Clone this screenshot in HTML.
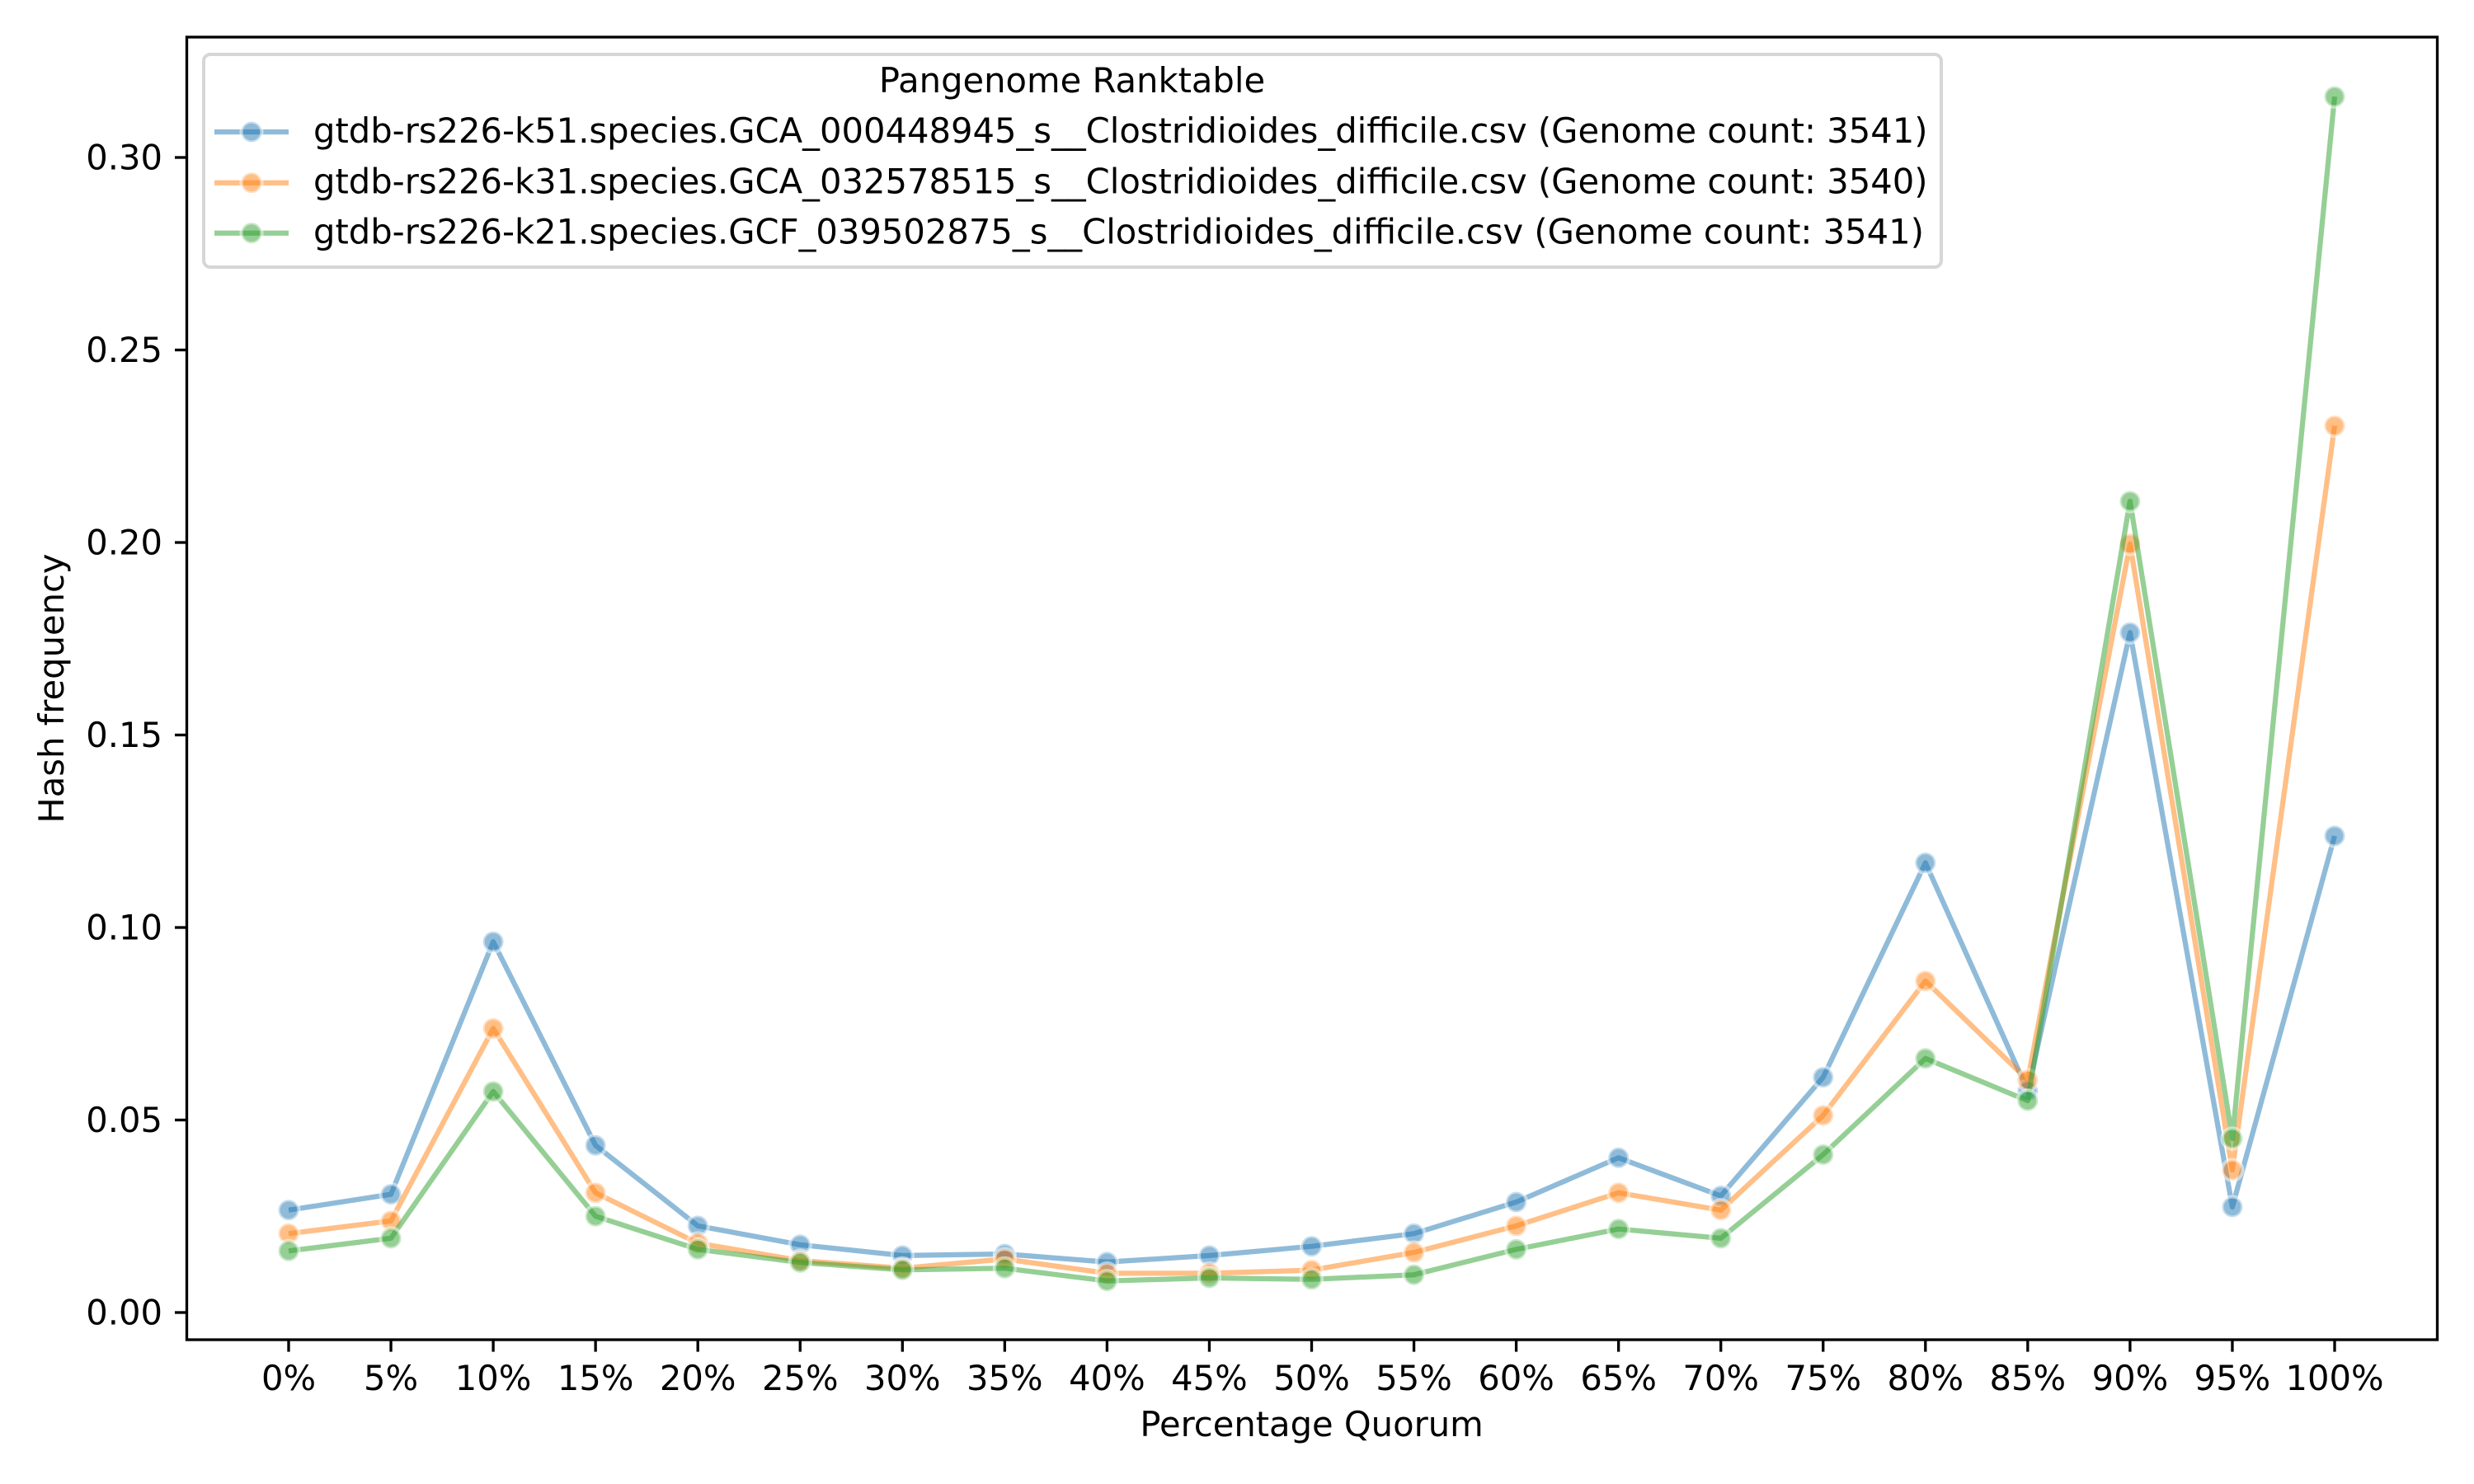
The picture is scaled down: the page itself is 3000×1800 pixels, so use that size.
<!DOCTYPE html>
<html>
<head>
<meta charset="utf-8">
<style>
  html, body { margin: 0; padding: 0; background: #ffffff; }
  svg { display: block; }
  text { font-family: "DejaVu Sans", "Liberation Sans", sans-serif; font-size: 41.67px; fill: #000; }
</style>
</head>
<body>
<svg width="3000" height="1800" viewBox="0 0 3000 1800" xmlns="http://www.w3.org/2000/svg">
  <rect x="0" y="0" width="3000" height="1800" fill="#ffffff"/>

  <!-- Series: blue (k51) -->
  <g>
    <polyline fill="none" stroke="#1f77b4" stroke-opacity="0.5" stroke-width="6.25" stroke-linejoin="round" stroke-linecap="butt"
      points="350,1467.8 474.05,1448.6 598.1,1142.3 722.15,1389.3 846.2,1486.9 970.25,1509.8 1094.3,1522.9 1218.35,1521.0 1342.4,1530.8 1466.45,1522.9 1590.5,1511.7 1714.55,1496.3 1838.6,1458.0 1962.65,1404.3 2086.7,1450.5 2210.75,1306.7 2334.8,1046.5 2458.85,1323.0 2582.9,767.3 2706.95,1464.0 2831,1013.9"/>
    <g fill="#1f77b4" fill-opacity="0.5" stroke="#ffffff" stroke-opacity="0.5" stroke-width="4.17">
      <circle cx="350" cy="1467.8" r="12.5"/><circle cx="474.05" cy="1448.6" r="12.5"/><circle cx="598.1" cy="1142.3" r="12.5"/>
      <circle cx="722.15" cy="1389.3" r="12.5"/><circle cx="846.2" cy="1486.9" r="12.5"/><circle cx="970.25" cy="1509.8" r="12.5"/>
      <circle cx="1094.3" cy="1522.9" r="12.5"/><circle cx="1218.35" cy="1521.0" r="12.5"/><circle cx="1342.4" cy="1530.8" r="12.5"/>
      <circle cx="1466.45" cy="1522.9" r="12.5"/><circle cx="1590.5" cy="1511.7" r="12.5"/><circle cx="1714.55" cy="1496.3" r="12.5"/>
      <circle cx="1838.6" cy="1458.0" r="12.5"/><circle cx="1962.65" cy="1404.3" r="12.5"/><circle cx="2086.7" cy="1450.5" r="12.5"/>
      <circle cx="2210.75" cy="1306.7" r="12.5"/><circle cx="2334.8" cy="1046.5" r="12.5"/><circle cx="2458.85" cy="1323.0" r="12.5"/>
      <circle cx="2582.9" cy="767.3" r="12.5"/><circle cx="2706.95" cy="1464.0" r="12.5"/><circle cx="2831" cy="1013.9" r="12.5"/>
    </g>
  </g>

  <!-- Series: orange (k31) -->
  <g>
    <polyline fill="none" stroke="#ff7f0e" stroke-opacity="0.5" stroke-width="6.25" stroke-linejoin="round" stroke-linecap="butt"
      points="350,1496.3 474.05,1480.9 598.1,1247.4 722.15,1446.8 846.2,1507.9 970.25,1529.0 1094.3,1538.3 1218.35,1527.1 1342.4,1544.4 1466.45,1544.4 1590.5,1540.6 1714.55,1519.1 1838.6,1486.9 1962.65,1446.8 2086.7,1467.8 2210.75,1352.9 2334.8,1189.9 2458.85,1309.9 2582.9,659.9 2706.95,1419.2 2831,516.5"/>
    <g fill="#ff7f0e" fill-opacity="0.5" stroke="#ffffff" stroke-opacity="0.5" stroke-width="4.17">
      <circle cx="350" cy="1496.3" r="12.5"/><circle cx="474.05" cy="1480.9" r="12.5"/><circle cx="598.1" cy="1247.4" r="12.5"/>
      <circle cx="722.15" cy="1446.8" r="12.5"/><circle cx="846.2" cy="1507.9" r="12.5"/><circle cx="970.25" cy="1529.0" r="12.5"/>
      <circle cx="1094.3" cy="1538.3" r="12.5"/><circle cx="1218.35" cy="1527.1" r="12.5"/><circle cx="1342.4" cy="1544.4" r="12.5"/>
      <circle cx="1466.45" cy="1544.4" r="12.5"/><circle cx="1590.5" cy="1540.6" r="12.5"/><circle cx="1714.55" cy="1519.1" r="12.5"/>
      <circle cx="1838.6" cy="1486.9" r="12.5"/><circle cx="1962.65" cy="1446.8" r="12.5"/><circle cx="2086.7" cy="1467.8" r="12.5"/>
      <circle cx="2210.75" cy="1352.9" r="12.5"/><circle cx="2334.8" cy="1189.9" r="12.5"/><circle cx="2458.85" cy="1309.9" r="12.5"/>
      <circle cx="2582.9" cy="659.9" r="12.5"/><circle cx="2706.95" cy="1419.2" r="12.5"/><circle cx="2831" cy="516.5" r="12.5"/>
    </g>
  </g>

  <!-- Series: green (k21) -->
  <g>
    <polyline fill="none" stroke="#2ca02c" stroke-opacity="0.5" stroke-width="6.25" stroke-linejoin="round" stroke-linecap="butt"
      points="350,1517.3 474.05,1501.9 598.1,1323.9 722.15,1475.2 846.2,1515.4 970.25,1531.3 1094.3,1540.2 1218.35,1538.3 1342.4,1553.7 1466.45,1550.0 1590.5,1551.8 1714.55,1546.2 1838.6,1515.4 1962.65,1490.7 2086.7,1501.9 2210.75,1400.5 2334.8,1283.8 2458.85,1335.1 2582.9,608.0 2706.95,1380.9 2831,117.2"/>
    <g fill="#2ca02c" fill-opacity="0.5" stroke="#ffffff" stroke-opacity="0.5" stroke-width="4.17">
      <circle cx="350" cy="1517.3" r="12.5"/><circle cx="474.05" cy="1501.9" r="12.5"/><circle cx="598.1" cy="1323.9" r="12.5"/>
      <circle cx="722.15" cy="1475.2" r="12.5"/><circle cx="846.2" cy="1515.4" r="12.5"/><circle cx="970.25" cy="1531.3" r="12.5"/>
      <circle cx="1094.3" cy="1540.2" r="12.5"/><circle cx="1218.35" cy="1538.3" r="12.5"/><circle cx="1342.4" cy="1553.7" r="12.5"/>
      <circle cx="1466.45" cy="1550.0" r="12.5"/><circle cx="1590.5" cy="1551.8" r="12.5"/><circle cx="1714.55" cy="1546.2" r="12.5"/>
      <circle cx="1838.6" cy="1515.4" r="12.5"/><circle cx="1962.65" cy="1490.7" r="12.5"/><circle cx="2086.7" cy="1501.9" r="12.5"/>
      <circle cx="2210.75" cy="1400.5" r="12.5"/><circle cx="2334.8" cy="1283.8" r="12.5"/><circle cx="2458.85" cy="1335.1" r="12.5"/>
      <circle cx="2582.9" cy="608.0" r="12.5"/><circle cx="2706.95" cy="1380.9" r="12.5"/><circle cx="2831" cy="117.2" r="12.5"/>
    </g>
  </g>

  <!-- Axes frame -->
  <rect x="226.5" y="45" width="2729" height="1580" fill="none" stroke="#000" stroke-width="3.33" stroke-linejoin="miter"/>

  <!-- Y ticks -->
  <g stroke="#000" stroke-width="3.33">
    <line x1="212" y1="1592" x2="226.5" y2="1592"/>
    <line x1="212" y1="1358.5" x2="226.5" y2="1358.5"/>
    <line x1="212" y1="1125" x2="226.5" y2="1125"/>
    <line x1="212" y1="891.5" x2="226.5" y2="891.5"/>
    <line x1="212" y1="658" x2="226.5" y2="658"/>
    <line x1="212" y1="424.5" x2="226.5" y2="424.5"/>
    <line x1="212" y1="191" x2="226.5" y2="191"/>
  </g>
  <g text-anchor="end">
    <text x="197" y="1606.5">0.00</text>
    <text x="197" y="1373">0.05</text>
    <text x="197" y="1139.5">0.10</text>
    <text x="197" y="906">0.15</text>
    <text x="197" y="672.5">0.20</text>
    <text x="197" y="439">0.25</text>
    <text x="197" y="205.5">0.30</text>
  </g>

  <!-- X ticks -->
  <g stroke="#000" stroke-width="3.33">
    <line x1="350" y1="1625" x2="350" y2="1639.6"/>
    <line x1="474.05" y1="1625" x2="474.05" y2="1639.6"/>
    <line x1="598.1" y1="1625" x2="598.1" y2="1639.6"/>
    <line x1="722.15" y1="1625" x2="722.15" y2="1639.6"/>
    <line x1="846.2" y1="1625" x2="846.2" y2="1639.6"/>
    <line x1="970.25" y1="1625" x2="970.25" y2="1639.6"/>
    <line x1="1094.3" y1="1625" x2="1094.3" y2="1639.6"/>
    <line x1="1218.35" y1="1625" x2="1218.35" y2="1639.6"/>
    <line x1="1342.4" y1="1625" x2="1342.4" y2="1639.6"/>
    <line x1="1466.45" y1="1625" x2="1466.45" y2="1639.6"/>
    <line x1="1590.5" y1="1625" x2="1590.5" y2="1639.6"/>
    <line x1="1714.55" y1="1625" x2="1714.55" y2="1639.6"/>
    <line x1="1838.6" y1="1625" x2="1838.6" y2="1639.6"/>
    <line x1="1962.65" y1="1625" x2="1962.65" y2="1639.6"/>
    <line x1="2086.7" y1="1625" x2="2086.7" y2="1639.6"/>
    <line x1="2210.75" y1="1625" x2="2210.75" y2="1639.6"/>
    <line x1="2334.8" y1="1625" x2="2334.8" y2="1639.6"/>
    <line x1="2458.85" y1="1625" x2="2458.85" y2="1639.6"/>
    <line x1="2582.9" y1="1625" x2="2582.9" y2="1639.6"/>
    <line x1="2706.95" y1="1625" x2="2706.95" y2="1639.6"/>
    <line x1="2831" y1="1625" x2="2831" y2="1639.6"/>
  </g>
  <g text-anchor="middle">
    <text x="350" y="1686">0%</text>
    <text x="474.05" y="1686">5%</text>
    <text x="598.1" y="1686">10%</text>
    <text x="722.15" y="1686">15%</text>
    <text x="846.2" y="1686">20%</text>
    <text x="970.25" y="1686">25%</text>
    <text x="1094.3" y="1686">30%</text>
    <text x="1218.35" y="1686">35%</text>
    <text x="1342.4" y="1686">40%</text>
    <text x="1466.45" y="1686">45%</text>
    <text x="1590.5" y="1686">50%</text>
    <text x="1714.55" y="1686">55%</text>
    <text x="1838.6" y="1686">60%</text>
    <text x="1962.65" y="1686">65%</text>
    <text x="2086.7" y="1686">70%</text>
    <text x="2210.75" y="1686">75%</text>
    <text x="2334.8" y="1686">80%</text>
    <text x="2458.85" y="1686">85%</text>
    <text x="2582.9" y="1686">90%</text>
    <text x="2706.95" y="1686">95%</text>
    <text x="2831" y="1686">100%</text>
  </g>

  <!-- Axis labels -->
  <text x="1590.5" y="1742" text-anchor="middle">Percentage Quorum</text>
  <text x="0" y="0" text-anchor="middle" transform="translate(77,835) rotate(-90)">Hash frequency</text>

  <!-- Legend -->
  <rect x="247" y="66" width="2107" height="258" rx="8" ry="8" fill="#ffffff" fill-opacity="0.8" stroke="#d6d6d6" stroke-width="4"/>
  <text x="1300" y="112" text-anchor="middle">Pangenome Ranktable</text>

  <g>
    <line x1="260" y1="160" x2="350" y2="160" stroke="#1f77b4" stroke-opacity="0.5" stroke-width="6.25"/>
    <circle cx="305" cy="160" r="12.5" fill="#1f77b4" fill-opacity="0.5" stroke="#ffffff" stroke-opacity="0.5" stroke-width="4.17"/>
    <text x="380" y="173">gtdb-rs226-k51.species.GCA_000448945_s__Clostridioides_difficile.csv (Genome count: 3541)</text>
  </g>
  <g>
    <line x1="260" y1="221.7" x2="350" y2="221.7" stroke="#ff7f0e" stroke-opacity="0.5" stroke-width="6.25"/>
    <circle cx="305" cy="221.7" r="12.5" fill="#ff7f0e" fill-opacity="0.5" stroke="#ffffff" stroke-opacity="0.5" stroke-width="4.17"/>
    <text x="380" y="234.7">gtdb-rs226-k31.species.GCA_032578515_s__Clostridioides_difficile.csv (Genome count: 3540)</text>
  </g>
  <g>
    <line x1="260" y1="282.7" x2="350" y2="282.7" stroke="#2ca02c" stroke-opacity="0.5" stroke-width="6.25"/>
    <circle cx="305" cy="282.7" r="12.5" fill="#2ca02c" fill-opacity="0.5" stroke="#ffffff" stroke-opacity="0.5" stroke-width="4.17"/>
    <text x="380" y="295.7">gtdb-rs226-k21.species.GCF_039502875_s__Clostridioides_difficile.csv (Genome count: 3541)</text>
  </g>
</svg>
</body>
</html>
